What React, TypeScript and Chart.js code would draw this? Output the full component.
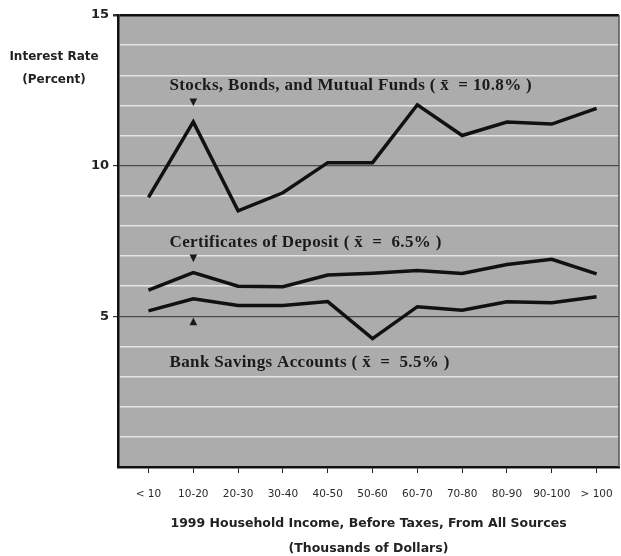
import React, { useEffect, useRef } from "react";
import { Chart, registerables } from "chart.js";

Chart.register(...registerables);

const categories = ["< 10", "10-20", "20-30", "30-40", "40-50", "50-60", "60-70", "70-80", "80-90", "90-100", "> 100"];
const stocks = [8.95, 11.45, 8.5, 9.1, 10.1, 10.1, 12.02, 11.0, 11.45, 11.38, 11.9];
const cds = [5.87, 6.45, 6.0, 5.98, 6.37, 6.43, 6.52, 6.42, 6.72, 6.89, 6.41];
const savings = [5.18, 5.58, 5.36, 5.36, 5.49, 4.26, 5.32, 5.2, 5.48, 5.45, 5.65];
const yTicks = [0, 1, 2, 3, 4, 5, 6, 7, 8, 9, 10, 11, 12, 13, 14, 15];
const yLabeled = [5, 10, 15];

const labelTexts = [
  "Stocks, Bonds, and Mutual Funds ( x\u0304  = 10.8% )",
  "Certificates of Deposit ( x\u0304  =  6.5% )",
  "Bank Savings Accounts ( x\u0304  =  5.5% )",
];
const labelX = [0.47, 0.47, 0.47];
const labelY = [12.65, 7.46, 3.48];
const markerSymbols = ["\u25BC", "\u25BC", "\u25B2"];
const markerX = [1, 1, 1];
const markerY = [12.1, 6.93, 4.83];
const yTitleLines = ["Interest Rate", "(Percent)"];
const xTitleLines = ["1999 Household Income, Before Taxes, From All Sources", "(Thousands of Dollars)"];

const toPoints = (arr: number[]) => arr.map((v, i) => ({ x: i, y: v }));

const decorPlugin = {
  id: "decor",
  beforeDraw(chart: any) {
    const { ctx, chartArea } = chart;
    ctx.save();
    ctx.fillStyle = "#acacac";
    ctx.fillRect(chartArea.left, chartArea.top, chartArea.right - chartArea.left, chartArea.bottom - chartArea.top);
    ctx.restore();
  },
  afterDraw(chart: any) {
    const { ctx, chartArea, scales } = chart;
    ctx.save();
    ctx.strokeStyle = "#555";
    ctx.lineWidth = 1.5;
    ctx.beginPath();
    ctx.moveTo(chartArea.right, chartArea.top);
    ctx.lineTo(chartArea.right, chartArea.bottom);
    ctx.stroke();

    ctx.fillStyle = "#1a1a1a";
    ctx.font = "bold 17px 'Liberation Serif'";
    try { (ctx as any).letterSpacing = "0.35px"; } catch (e) {}
    ctx.textAlign = "left";
    ctx.textBaseline = "middle";
    labelTexts.forEach((t, i) => {
      ctx.fillText(t, scales.x.getPixelForValue(labelX[i]), scales.y.getPixelForValue(labelY[i]));
    });
    try { (ctx as any).letterSpacing = "0px"; } catch (e) {}
    ctx.font = "10px 'DejaVu Sans'";
    ctx.textAlign = "center";
    markerSymbols.forEach((s, i) => {
      ctx.fillText(s, scales.x.getPixelForValue(markerX[i]), scales.y.getPixelForValue(markerY[i]));
    });

    ctx.font = "bold 12px 'DejaVu Sans'";
    ctx.fillStyle = "#222";
    ctx.textAlign = "center";
    yTitleLines.forEach((t, i) => {
      ctx.fillText(t, 54, 57 + i * 23);
    });
    ctx.restore();
  },
};

export default function App() {
  const ref = useRef<HTMLCanvasElement | null>(null);
  useEffect(() => {
    document.body.style.margin = "0";
    if (!ref.current) return;
    const lineStyle = {
      borderColor: "#111",
      borderWidth: 3.5,
      pointRadius: 0,
      tension: 0,
      fill: false,
    };
    const chart = new Chart(ref.current, {
      type: "line",
      data: {
        datasets: [
          { label: "Stocks, Bonds, and Mutual Funds", data: toPoints(stocks), ...lineStyle },
          { label: "Certificates of Deposit", data: toPoints(cds), ...lineStyle },
          { label: "Bank Savings Accounts", data: toPoints(savings), ...lineStyle },
        ],
      },
      options: {
        responsive: false,
        animation: false,
        layout: { padding: { top: 15, right: 2, left: 0, bottom: 0 } },
        plugins: { legend: { display: false }, tooltip: { enabled: false }, title: { display: false } },
        scales: {
          x: {
            type: "linear",
            min: -0.68,
            max: 10.5,
            afterBuildTicks: (scale: any) => {
              scale.ticks = categories.map((_, i) => ({ value: i }));
            },
            afterFit: (scale: any) => {
              scale.height = 89;
              scale.paddingRight = 0;
              scale.paddingLeft = 0;
            },
            grid: { display: true, drawOnChartArea: false, tickLength: 6, color: "#222", lineWidth: 1 },
            border: { display: true, color: "#111", width: 2.5 },
            ticks: {
              callback: (v: any) => categories[v as number] ?? "",
              font: { family: "'DejaVu Sans'", size: 10.5 },
              color: "#2a2a2a",
              padding: 15,
              maxRotation: 0,
              autoSkip: false,
            },
            title: {
              display: true,
              text: xTitleLines,
              font: { family: "'DejaVu Sans'", size: 12.5, weight: "bold", lineHeight: "25px" },
              color: "#222",
              padding: { top: 0, bottom: -5 },
            },
          },
          y: {
            type: "linear",
            min: 0,
            max: 15,
            afterBuildTicks: (scale: any) => {
              scale.ticks = yTicks.map((v) => ({ value: v }));
            },
            afterFit: (scale: any) => {
              scale.width = 118;
            },
            grid: {
              drawOnChartArea: true,
              tickLength: 5,
              color: (ctx: any) => {
                const v = ctx.tick ? ctx.tick.value : 0;
                if (v === 0) return "rgba(0,0,0,0)";
                if (v === 15) return "#111";
                if (v % 5 === 0) return "#4a4a4a";
                return "#e4e4e4";
              },
              lineWidth: (ctx: any) => {
                const v = ctx.tick ? ctx.tick.value : 0;
                if (v === 15) return 2.5;
                if (v % 5 === 0) return 1.2;
                return 1.5;
              },
              tickColor: (ctx: any) => {
                const v = ctx.tick ? ctx.tick.value : 0;
                return yLabeled.includes(v) ? "#333" : "rgba(0,0,0,0)";
              },
            },
            border: { display: true, color: "#111", width: 2.5 },
            ticks: {
              callback: (v: any) => (yLabeled.includes(v as number) ? String(v) : ""),
              font: { family: "'DejaVu Sans'", size: 13, weight: "bold" },
              color: "#222",
              padding: 4,
              autoSkip: false,
            },
          },
        },
      },
      plugins: [decorPlugin],
    });
    return () => chart.destroy();
  }, []);
  return <canvas ref={ref} width={621} height={556} style={{ display: "block" }} />;
}
